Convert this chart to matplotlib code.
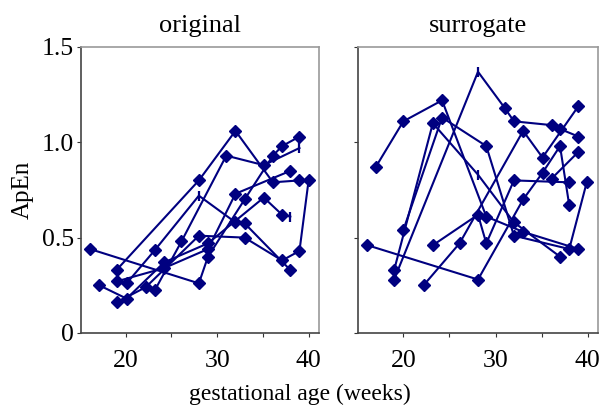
import matplotlib
matplotlib.use("Agg")
import matplotlib.pyplot as plt

# ---- data: original ----
orig_x = [
    [16.1, 28.0, 29.0, 33.0, 36.1, 37.1, 39.0],
    [17.1, 20.1, 24.2, 29.0, 35.1, 37.1, 38.0],
    [19.0, 28.0, 32.0, 36.1, 39.0],
    [19.0, 24.2, 29.0, 32.0, 38.0],
    [19.0, 22.2, 28.0, 33.0, 37.1, 39.0, 40.0],
    [20.1, 23.2, 28.0, 32.0, 33.0, 38.0],
    [23.2, 26.1, 31.0, 35.1, 39.0],
]
orig_y = [
    [0.44, 0.26, 0.40, 0.70, 0.93, 0.98, 1.03],
    [0.25, 0.18, 0.37, 0.47, 0.71, 0.62, 0.61],
    [0.33, 0.80, 1.06, 0.79, 0.80],
    [0.27, 0.34, 0.44, 0.73, 0.85],
    [0.16, 0.24, 0.51, 0.50, 0.38, 0.43, 0.80],
    [0.26, 0.435, 0.72, 0.58, 0.575, 0.33],
    [0.225, 0.48, 0.93, 0.88, 0.97],
]
# (series, point) drawn with a bar marker instead of a diamond
orig_bar = [(1, 6), (5, 2), (6, 4)]

# ---- data: surrogate ----
surr_x = [
    [17.0, 20.0, 24.2, 29.0, 33.0, 39.0],
    [16.1, 28.1, 33.0, 35.1, 37.0, 38.0],
    [19.0, 23.2, 28.1, 32.0, 37.0],
    [19.0, 28.1, 31.0, 32.0, 36.1, 37.0, 39.0],
    [20.0, 24.2, 29.0, 32.0, 38.0, 39.9],
    [22.2, 26.1, 33.0, 35.1, 39.0],
    [23.2, 28.1, 29.0, 32.0, 38.0],
    [36.1, 39.0],
]
surr_y = [
    [0.87, 1.11, 1.22, 0.61, 0.53, 0.44],
    [0.46, 0.28, 0.70, 0.84, 0.98, 0.67],
    [0.33, 1.10, 0.83, 0.58, 0.40],
    [0.28, 1.37, 1.18, 1.11, 1.09, 1.07, 1.03],
    [0.54, 1.13, 0.98, 0.51, 0.44, 0.79],
    [0.25, 0.47, 1.06, 0.92, 1.19],
    [0.46, 0.62, 0.47, 0.80, 0.79],
    [0.81, 0.95],
]
surr_bar = [(2, 2), (3, 1)]

panel_titles = ["original", "surrogate"]
x_ticks = [20, 25, 30, 35, 40]
x_labels = ["20", "", "30", "", "40"]
y_ticks = [0, 0.5, 1.0, 1.5]
y_labels = ["0", "0.5", "1.0", "1.5"]

NAVY = "#000080"
plt.rcParams["font.family"] = ["Liberation Serif", "DejaVu Serif"]

fig = plt.figure(figsize=(5.99, 4.05), dpi=100)
ax1 = fig.add_axes([0.135, 0.178, 0.397, 0.706])
ax2 = fig.add_axes([0.598, 0.178, 0.400, 0.706])


def draw(ax, xs, ys, bars, title, show_ylabels):
    for i, (sx, sy) in enumerate(zip(xs, ys)):
        ax.plot(sx, sy, color=NAVY, lw=1.5, zorder=2)
        dx = [x for j, x in enumerate(sx) if (i, j) not in bars]
        dy = [y for j, y in enumerate(sy) if (i, j) not in bars]
        ax.plot(dx, dy, ls="none", marker="D", ms=6.2, color=NAVY, zorder=3)
        bx = [x for j, x in enumerate(sx) if (i, j) in bars]
        by = [y for j, y in enumerate(sy) if (i, j) in bars]
        ax.plot(bx, by, ls="none", marker="|", ms=7, mew=1.6, color=NAVY, zorder=3)
    ax.set_xlim(15.1, 41.1)
    ax.set_ylim(0, 1.5)
    ax.set_xticks(x_ticks)
    ax.set_xticklabels(x_labels)
    ax.set_yticks(y_ticks)
    if show_ylabels:
        ax.set_yticklabels(y_labels)
    else:
        ax.set_yticklabels([])
    ax.tick_params(direction="out", length=3, width=0.8, labelsize=18.5,
                   colors="#333333", labelcolor="black")
    ax.tick_params(axis="x", pad=9)
    ax.tick_params(axis="y", pad=2)
    for s in ["top", "right"]:
        ax.spines[s].set_color("#999999")
        ax.spines[s].set_linewidth(1.2)
    for s in ["left", "bottom"]:
        ax.spines[s].set_color("#444444")
        ax.spines[s].set_linewidth(1.2)
    ax.set_title(title, fontsize=19, pad=11)


draw(ax1, orig_x, orig_y, orig_bar, panel_titles[0], True)
draw(ax2, surr_x, surr_y, surr_bar, panel_titles[1], False)
ax1.set_ylabel("ApEn", fontsize=18, labelpad=6)
fig.text(0.5, 0.012, "gestational age (weeks)", ha="center", va="baseline", fontsize=17)

fig.savefig("out.png", dpi=100)
